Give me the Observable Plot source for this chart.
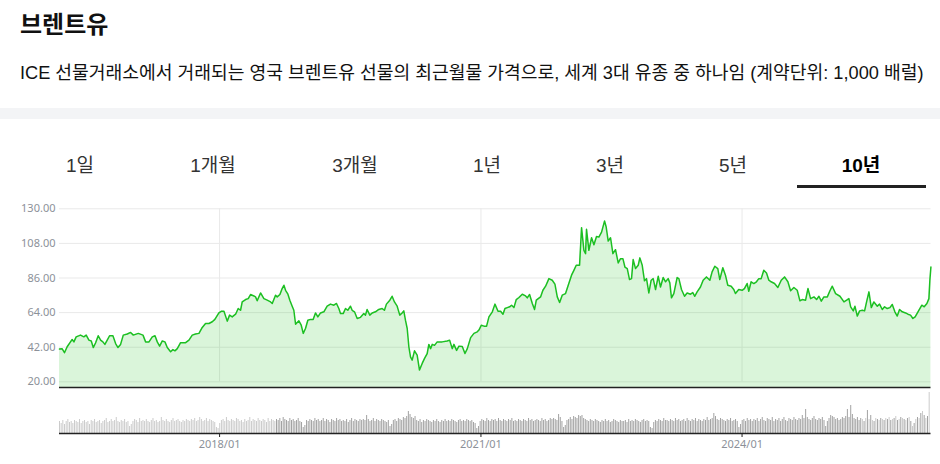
<!DOCTYPE html>
<html><head><meta charset="utf-8">
<script src="https://cdn.jsdelivr.net/npm/d3@7"></script>
<script src="https://cdn.jsdelivr.net/npm/@observablehq/plot@0.6"></script>
<style>
body{margin:0;background:#fff;width:940px;height:464px;overflow:hidden;position:relative;font-family:"Liberation Sans","Noto Sans CJK KR",sans-serif;}
#title{position:absolute;left:20px;top:10px;font-size:24px;line-height:30px;font-weight:bold;color:#111;}
#sub{position:absolute;left:20px;top:61px;font-size:18.2px;line-height:24px;color:#111;white-space:nowrap;}
#band{position:absolute;left:0;top:108px;width:940px;height:11px;background:#f3f4f6;}
.tab{position:absolute;top:154px;font-size:19px;line-height:24px;color:#333;transform:translateX(-50%);white-space:nowrap;}
.tab.on{font-weight:bold;color:#000;}
#uline{position:absolute;left:797px;top:185px;width:129px;height:3px;background:#222;}
#price{position:absolute;left:0;top:195px;}
#vol{position:absolute;left:0;top:390px;}
</style></head><body>
<div id="title"></div>
<div id="sub"></div>
<div id="band"></div>
<div id="tabs"></div>
<div id="uline"></div>
<div id="price"></div>
<div id="vol"></div>
<script>
const titleText = "브렌트유";
const subtitleText = "ICE 선물거래소에서 거래되는 영국 브렌트유 선물의 최근월물 가격으로, 세계 3대 유종 중 하나임 (계약단위: 1,000 배럴)";
const tabLabels = ["1일","1개월","3개월","1년","3년","5년","10년"];
const tabCenters = [80,213,355,487,610,733,861];
const activeTab = "10년";

const yTicks = [20,42,64,86,108,130];
const xTickYears = [2018,2021,2024];
const startYear = 2016.163, endYear = 2026.168;

// Price (decimal year, USD/bbl)
const priceYear = [
2016.163,2016.194,2016.220,2016.251,2016.289,2016.308,2016.328,2016.354,2016.404,2016.442,2016.469,2016.500,2016.527,2016.550,2016.576,2016.607,2016.634,2016.660,2016.683,2016.710,2016.737,2016.775,2016.806,2016.833,2016.863,2016.894,2016.940,2016.978,
2017.009,2017.066,2017.120,2017.150,2017.189,2017.227,2017.258,2017.284,2017.311,2017.342,2017.372,2017.399,2017.437,2017.464,2017.487,2017.514,2017.552,2017.610,2017.648,2017.686,2017.724,2017.763,2017.801,2017.839,2017.878,2017.916,2017.946,2017.992,
2018.023,2018.050,2018.088,2018.115,2018.145,2018.184,2018.214,2018.241,2018.260,2018.299,2018.329,2018.356,2018.394,2018.413,2018.432,2018.471,2018.509,2018.547,2018.586,2018.605,2018.643,2018.662,2018.693,2018.719,2018.739,2018.758,2018.785,2018.807,2018.834,2018.853,2018.873,2018.911,2018.938,2018.961,2018.987,
2019.014,2019.045,2019.075,2019.102,2019.129,2019.160,2019.198,2019.236,2019.274,2019.313,2019.343,2019.370,2019.389,2019.420,2019.447,2019.473,2019.504,2019.523,2019.550,2019.581,2019.619,2019.657,2019.676,2019.695,2019.726,2019.753,2019.791,2019.829,2019.868,2019.894,2019.917,2019.956,2019.982,
2020.009,2020.040,2020.070,2020.097,2020.116,2020.135,2020.155,2020.174,2020.193,2020.212,2020.239,2020.269,2020.296,2020.327,2020.354,2020.384,2020.403,2020.423,2020.442,2020.468,2020.499,2020.556,2020.614,2020.641,2020.671,2020.690,2020.721,2020.748,2020.786,2020.817,2020.844,2020.882,2020.920,2020.958,2020.977,
2021.004,2021.035,2021.065,2021.092,2021.131,2021.161,2021.196,2021.226,2021.253,2021.276,2021.303,2021.330,2021.352,2021.379,2021.406,2021.437,2021.475,2021.513,2021.532,2021.559,2021.590,2021.616,2021.636,2021.685,2021.712,2021.743,2021.781,2021.819,2021.850,2021.877,2021.904,2021.934,2021.972,
2022.003,2022.041,2022.068,2022.095,2022.133,2022.156,2022.183,2022.202,2022.213,2022.240,2022.271,2022.298,2022.328,2022.355,2022.386,2022.420,2022.439,2022.462,2022.489,2022.516,2022.546,2022.577,2022.604,2022.631,2022.654,2022.681,2022.707,2022.730,2022.749,2022.776,2022.807,2022.826,2022.853,2022.879,2022.902,2022.929,2022.956,2022.979,
2023.006,2023.037,2023.063,2023.094,2023.121,2023.151,2023.170,2023.189,2023.216,2023.254,2023.274,2023.304,2023.339,2023.369,2023.408,2023.434,2023.457,2023.484,2023.522,2023.553,2023.591,2023.630,2023.656,2023.687,2023.721,2023.744,2023.779,2023.809,2023.836,2023.875,2023.905,2023.924,2023.962,
2024.001,2024.027,2024.058,2024.077,2024.104,2024.135,2024.165,2024.192,2024.219,2024.249,2024.280,2024.307,2024.333,2024.372,2024.410,2024.449,2024.487,2024.525,2024.556,2024.594,2024.632,2024.663,2024.689,2024.728,2024.755,2024.785,2024.824,2024.854,2024.881,2024.908,2024.938,2024.977,
2025.007,2025.034,2025.072,2025.122,2025.168,2025.199,2025.225,2025.245,2025.275,2025.294,2025.321,2025.348,2025.379,2025.405,2025.428,2025.455,2025.482,2025.512,2025.551,2025.577,2025.608,2025.635,2025.665,2025.696,2025.723,2025.753,2025.780,2025.807,2025.838,2025.876,2025.903,2025.933,2025.960,2025.986,
2026.025,2026.063,2026.090,2026.121,2026.144,2026.155,2026.167
];
const priceValue = [
40.8,41,38.5,42.3,45.4,46.9,45.4,48.6,49.7,48.6,49.7,46.5,46,41.8,44.7,49.3,46.5,45.4,43.8,46.5,49.3,49.3,44.3,41.8,43.8,49.7,50.4,51.4,
49.7,50.8,49.7,45.4,45.4,48.6,49.3,45.4,42.7,46,45.4,41.8,39.1,40.5,39.7,41.1,44.9,44.9,46.5,49.7,50.4,50.8,54.6,57.1,57.1,58.2,59.7,63.8,
64.9,64.9,58.6,62.4,61.3,63,66.6,65.5,70.8,72.3,72.9,75.5,74.6,74,71.5,76.5,72.9,71.9,70.8,69.8,75.1,74,75.5,79.3,81.4,78.2,75.7,71.9,68.1,65.5,56.6,58.8,56,50.8,53.9,
59.2,59.7,59.7,63.8,61.3,63.8,64.5,68.1,69.4,68.7,69.8,66.6,63.4,63.4,66.6,65.5,68.1,65.5,64.5,60.3,61,63.4,62.4,66,62.4,63.8,64.5,66,66.6,65.5,69.4,71.9,74.4,
70.8,68.1,62.4,63.8,65.1,59.2,53.9,42.3,35.9,33.8,39.7,37,27.5,31.7,34.9,38,43.8,41.1,43.8,43.2,45.4,45.4,46,46.5,41.1,43.8,40,42.7,42.5,38,41.1,48.1,50.8,51.8,52.9,
56,55.4,55.4,61.3,64.5,69.4,64.9,64.9,63,66.6,67.2,67.7,68.7,67.2,72.3,73.6,75.7,74.6,73.4,75.5,69.8,66,71.9,74,78.2,80.8,85.6,84.6,82.1,74,70.4,75.1,76.1,
81.4,87.8,90.9,94.1,94.1,118,103.6,101.5,117,103.6,111.6,107.1,112.4,112,115.2,122.2,118.4,109.5,111.6,101.5,104,95.6,98.3,98.3,93,92,85,85.6,97.7,92,94.1,98.8,94.1,84.2,85.6,76.5,84.6,85.6,
78.7,87.1,80.3,86.3,83.6,85.6,82.9,73.4,76.1,86.3,85.6,78.7,74.4,76.5,75.7,76.7,74.4,77.2,80.3,84.6,86.7,84.6,89.9,93.5,92,85,92.5,87.8,81.4,80.8,78.7,76.1,78.7,
78.2,79.3,82.5,77.6,83.6,82.5,83.6,85.6,85.6,90.9,89.2,84.6,83.6,82.5,80,84.6,86.7,83.6,77.9,80,78.2,71.5,72.3,71.9,79.3,72.9,74,72.3,74.4,71.3,74,74,
77.9,80.8,76.1,74.4,70.8,71.9,72.9,67.7,65.1,68.1,61.8,65.1,65.5,65.1,70.8,77.2,67.2,70.8,68.1,69.4,66,67.7,66.6,67.2,69.2,64.5,61.8,66,64.5,63.8,63,62.4,60.3,61.3,
65.1,68.7,67.7,69.8,72.9,84.6,93
];

// Weekly volume (relative units), first week starts at startYear
const volumeWeekly = [
12,10,13,9,12,14,11,12,10,13,12,11,14,10,12,13,11,12,9,13,12,14,11,12,13,10,
12,13,15,11,12,14,12,13,16,12,11,13,12,14,11,12,7,9,12,14,13,11,15,12,13,12,
14,12,11,13,15,12,13,11,12,16,13,12,14,12,11,13,15,12,13,14,12,11,13,12,14,13,
12,14,13,15,12,13,16,14,12,13,15,12,14,13,12,11,6,5,10,13,14,12,16,13,12,14,
13,12,15,14,12,13,11,14,12,13,16,12,14,13,12,15,13,12,14,13,11,15,12,14,13,12,
14,13,15,12,16,14,13,12,15,13,14,12,13,15,12,11,6,8,13,12,14,13,12,15,13,14,
12,13,15,12,14,13,11,14,13,12,15,13,14,12,13,12,14,11,13,15,12,14,13,12,14,13,
14,13,18,14,12,13,15,12,14,13,12,14,13,12,11,13,7,9,13,14,12,15,14,13,16,15,
17,22,19,16,15,17,13,12,14,11,13,12,14,13,12,11,13,12,14,12,11,13,12,14,12,13,
12,14,13,12,11,13,14,12,13,12,14,13,12,13,11,10,5,7,12,14,13,12,15,13,12,14,
13,14,12,15,13,12,14,13,12,14,13,15,12,13,12,14,13,12,14,13,12,15,13,14,12,13,
14,13,12,15,13,14,12,13,15,14,15,14,13,19,16,12,6,8,13,14,16,14,17,16,15,18,
17,18,15,14,13,12,14,13,12,14,13,12,11,13,12,14,12,13,11,12,14,13,12,11,13,12,
12,13,11,14,12,13,12,14,13,12,11,13,14,12,13,12,6,5,11,13,12,14,13,12,15,13,
13,12,14,13,12,15,13,14,12,13,14,12,15,13,12,14,13,15,12,14,13,12,14,13,16,13,
14,15,20,17,14,13,15,14,13,12,14,13,15,12,13,14,12,6,9,13,14,12,15,13,14,12,
14,13,15,12,14,16,13,12,15,14,13,16,12,14,13,15,12,14,16,13,12,15,14,13,16,14,
13,15,14,18,15,24,16,14,13,15,17,14,13,15,14,16,13,7,12,15,18,17,16,14,15,13,
14,16,15,17,24,16,28,19,15,14,16,13,15,14,12,15,23,14,18,13,12,15,14,13,15,14,
13,15,14,16,13,14,15,17,13,14,16,15,14,13,15,16,12,7,10,14,16,15,20,22,18,15,17,41
];

// ---- build ----
function yd(y){const Y=Math.floor(y);const s=Date.UTC(Y,0,1),e=Date.UTC(Y+1,0,1);return new Date(s+(y-Y)*(e-s));}
const x0 = yd(startYear), x1 = yd(endYear);
const price = priceYear.map((t,i)=>({date:yd(t), v:priceValue[i]}));
const vol = volumeWeekly.map((v,i)=>({date:d3.utcDay.offset(x0, i*7), v, i}));
const xTicks = xTickYears.map(y=>new Date(Date.UTC(y,0,1)));
const yMin = 16.4;

document.getElementById("title").textContent = titleText;
document.getElementById("sub").textContent = subtitleText;
const tabs = document.getElementById("tabs");
tabLabels.forEach((t,i)=>{const s=document.createElement("div");s.className="tab"+(t===activeTab?" on":"");s.style.left=tabCenters[i]+"px";s.textContent=t;tabs.appendChild(s);});

const common = {width:940, marginLeft:59, marginRight:9.5, style:{fontFamily:"'Noto Sans',sans-serif", background:"transparent", overflow:"visible"}};

const pricePlot = Plot.plot({
  ...common, height:195, marginTop:13.3, marginBottom:3,
  x:{type:"utc", domain:[x0,x1], axis:null},
  y:{domain:[yMin,130], axis:null},
  marks:[
    Plot.ruleY(yTicks, {stroke:"#e9e9e9", strokeWidth:1}),
    Plot.ruleX(xTicks, {y1:20, y2:130, stroke:"#e9e9e9", strokeWidth:1}),
    Plot.areaY(price, {x:"date", y1:yMin, y2:"v", fill:"#22c322", fillOpacity:0.17}),
    Plot.lineY(price, {x:"date", y:"v", stroke:"#1cbf22", strokeWidth:1.5}),
    Plot.ruleY([yMin], {stroke:"#222", strokeWidth:1.5}),
    Plot.axisY({ticks:yTicks, tickFormat:d=>d.toFixed(2), tickSize:0, tickPadding:4, fontSize:11, fill:"#8c9199", label:null})
  ]
});
document.getElementById("price").appendChild(pricePlot);

const volPlot = Plot.plot({
  ...common, height:74, marginTop:1, marginBottom:31,
  x:{type:"utc", domain:[x0,x1]},
  y:{domain:[0,42], axis:null},
  marks:[
    Plot.ruleX(vol, {x:"date", y1:0, y2:"v", strokeWidth:1,
      stroke:d=> (d.date < yd(2018.65) || (d.date > yd(2025.35) && d.i%2===1) || d.i===volumeWeekly.length-1) ? "#cbcbcb" : "#a2a2a2"}),
    Plot.ruleY([0], {stroke:"#222", strokeWidth:1.5}),
    Plot.axisX({ticks:xTicks, tickFormat:d3.utcFormat("%Y/%m"), tickSize:4, tickPadding:3, stroke:"#222", fill:"#8c9199", fontSize:11, label:null})
  ]
});
document.getElementById("vol").appendChild(volPlot);
</script>
</body></html>
